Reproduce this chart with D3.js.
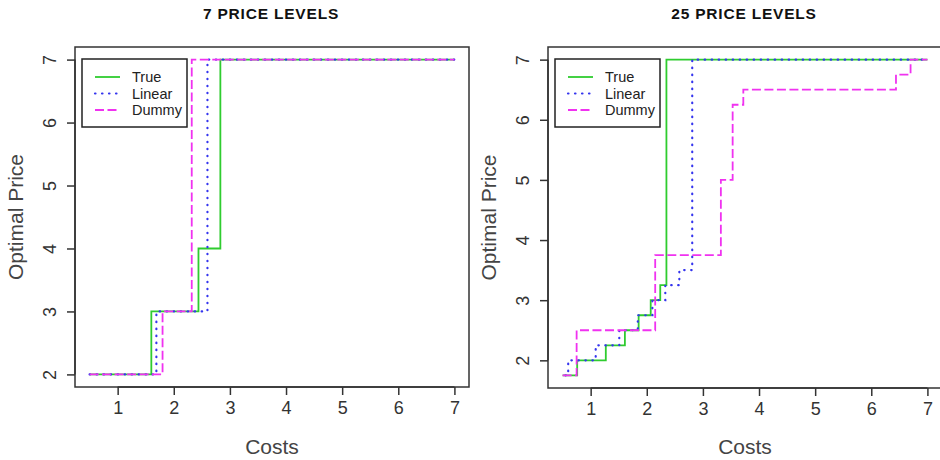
<!DOCTYPE html>
<html>
<head>
<meta charset="utf-8">
<script src="https://cdn.jsdelivr.net/npm/d3@7"></script>
<style>
    body { margin: 0; background: #fff; }
    svg { font-family: "Liberation Sans", Arial, sans-serif; }
    .title { font-weight: bold; font-size: 15.5px; fill: #111; letter-spacing: 0.8px; }
    .tick-label { font-size: 18px; fill: #333; }
    .axis-title { font-size: 21px; fill: #444; }
    .legend-text { font-size: 14.5px; fill: #222; }
</style>
</head>
<body>
<div id="chart"></div>
<script>
const xTicks = [1, 2, 3, 4, 5, 6, 7];
const yTicks = [2, 3, 4, 5, 6, 7];
const seriesNames = ["True", "Linear", "Dummy"];

// 7 price levels: step breakpoints (cost) and level (price) after each one
const costs7True = [0.5, 1.6, 2.44, 2.83, 7];
const price7True = [2, 3, 4, 7, 7];
const costs7Linear = [0.5, 1.69, 2.6, 7];
const price7Linear = [2, 3, 7, 7];
const costs7Dummy = [0.5, 1.8, 2.32, 7];
const price7Dummy = [2, 3, 7, 7];

// 25 price levels
const costs25True = [0.5, 0.76, 1.27, 1.61, 1.855, 2.07, 2.24, 2.35, 7];
const price25True = [1.75, 2, 2.25, 2.5, 2.75, 3, 3.25, 7, 7];
const costs25Linear = [0.55, 0.6, 1.09, 1.51, 1.84, 2.1, 2.33, 2.58, 2.81, 7];
const price25Linear = [1.75, 2, 2.25, 2.5, 2.75, 3, 3.25, 3.5, 7, 7];
const costs25Dummy = [0.5, 0.75, 2.15, 3.32, 3.53, 3.72, 6.44, 6.7, 7];
const price25Dummy = [1.75, 2.5, 3.75, 5, 6.25, 6.5, 6.75, 7, 7];

const panels = [{
    title: "7 PRICE LEVELS",
    offset: 0,
    yDomain: [1.8, 7.2],
    bottom: 387,
    series: [[costs7True, price7True], [costs7Linear, price7Linear], [costs7Dummy, price7Dummy]]
}, {
    title: "25 PRICE LEVELS",
    offset: 473,
    yDomain: [1.54, 7.21],
    bottom: 388,
    series: [[costs25True, price25True], [costs25Linear, price25Linear], [costs25Dummy, price25Dummy]]
}];

const colors = ["#2fcc2f", "#3535ee", "#f032f0"];
const dashes = [null, "0.5,6.5", "9,3.5"];

const width = 940;
const height = 460;
const plotLeft = 75;
const plotWidth = 394;
const plotTop = 47;

const svg = d3.select("#chart")
    .append("svg")
    .attr("width", width)
    .attr("height", height);

const drawPanel = panel => {
    const g = svg.append("g")
        .attr("transform", `translate(${panel.offset},0)`);

    const x = d3.scaleLinear()
        .domain([0.24, 7.26])
        .range([plotLeft, plotLeft + plotWidth]);

    const y = d3.scaleLinear()
        .domain(panel.yDomain)
        .range([panel.bottom, plotTop]);

    g.append("text")
        .attr("x", 271)
        .attr("y", 19)
        .attr("text-anchor", "middle")
        .attr("class", "title")
        .text(panel.title);

    // frame
    g.append("rect")
        .attr("x", plotLeft)
        .attr("y", plotTop)
        .attr("width", plotWidth)
        .attr("height", panel.bottom - plotTop)
        .attr("fill", "none")
        .attr("stroke", "#333")
        .attr("stroke-width", 1.5);

    // x axis
    const xAxis = g.append("g")
        .attr("transform", `translate(0,${panel.bottom})`)
        .call(d3.axisBottom(x).tickValues(xTicks).tickSize(8).tickFormat(d3.format("d")));
    xAxis.select(".domain")
        .attr("d", `M${x(1)},0H${x(7)}`)
        .attr("stroke", "#333")
        .attr("stroke-width", 1.5);
    xAxis.selectAll(".tick line").attr("stroke", "#333").attr("stroke-width", 1.5);
    xAxis.selectAll(".tick text")
        .attr("class", "tick-label")
        .attr("y", 14)
        .attr("font-size", null)
        .attr("font-family", null);

    // y axis, labels rotated like R's las = 0
    const yAxis = g.append("g")
        .attr("transform", `translate(${plotLeft},0)`)
        .call(d3.axisLeft(y).tickValues(yTicks).tickSize(8).tickFormat(d3.format("d")));
    yAxis.select(".domain")
        .attr("d", `M0,${y(2)}V${y(7)}`)
        .attr("stroke", "#333")
        .attr("stroke-width", 1.5);
    yAxis.selectAll(".tick line").attr("stroke", "#333").attr("stroke-width", 1.5);
    yAxis.selectAll(".tick text")
        .attr("class", "tick-label")
        .attr("x", null)
        .attr("dy", null)
        .attr("font-size", null)
        .attr("font-family", null)
        .attr("text-anchor", "middle")
        .attr("transform", "translate(-19,0) rotate(-90)")
        .attr("y", 0);

    g.append("text")
        .attr("class", "axis-title")
        .attr("text-anchor", "middle")
        .attr("x", 272)
        .attr("y", 454)
        .text("Costs");

    g.append("text")
        .attr("class", "axis-title")
        .attr("text-anchor", "middle")
        .attr("transform", `translate(23,${(plotTop + panel.bottom) / 2}) rotate(-90)`)
        .text("Optimal Price");

    const line = d3.line()
        .x(d => x(d[0]))
        .y(d => y(d[1]))
        .curve(d3.curveStepAfter);

    panel.series.forEach(([costs, prices], i) => {
        g.append("path")
            .datum(costs.map((c, k) => [c, prices[k]]))
            .attr("d", line)
            .attr("fill", "none")
            .attr("stroke", colors[i])
            .attr("stroke-width", i === 1 ? 2.2 : 1.8)
            .attr("stroke-linecap", i === 1 ? "round" : "butt")
            .attr("stroke-dasharray", dashes[i]);
    });

    // legend
    const legend = g.append("g")
        .attr("transform", `translate(${plotLeft + 7},${plotTop + 12})`);
    legend.append("rect")
        .attr("width", 105)
        .attr("height", 68)
        .attr("fill", "#fff")
        .attr("stroke", "#222")
        .attr("stroke-width", 1.5);
    seriesNames.forEach((name, i) => {
        const ly = 18 + i * 16.5;
        legend.append("line")
            .attr("x1", 13)
            .attr("x2", 38)
            .attr("y1", ly)
            .attr("y2", ly)
            .attr("stroke", colors[i])
            .attr("stroke-width", i === 1 ? 2.2 : 1.8)
            .attr("stroke-linecap", i === 1 ? "round" : "butt")
            .attr("stroke-dasharray", dashes[i]);
        legend.append("text")
            .attr("x", 50)
            .attr("y", ly + 5)
            .attr("class", "legend-text")
            .text(name);
    });
};

panels.forEach(drawPanel);
</script>
</body>
</html>
